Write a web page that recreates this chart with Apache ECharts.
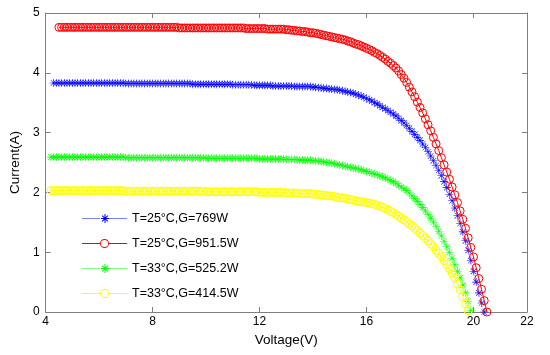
<!DOCTYPE html>
<html>
<head>
<meta charset="utf-8">
<script src="https://cdn.jsdelivr.net/npm/echarts@6/dist/echarts.min.js"></script>
<style>
html,body{margin:0;padding:0;background:#fff;}
#chart{width:550px;height:355px;}
</style>
</head>
<body>
<div id="chart"></div>
<script>
// Voltage sampling (V) (step ~0.1 V)
const voltage = [
 4.2,4.3,4.4,4.5,4.6,4.7,4.8,4.9,
 5.0,5.1,5.2,5.3,5.4,5.5,5.6,5.7,5.8,5.9,
 6.0,6.1,6.2,6.3,6.4,6.5,6.6,6.7,6.8,6.9,
 7.0,7.1,7.2,7.3,7.4,7.5,7.6,7.7,7.8,7.9,
 8.0,8.1,8.2,8.3,8.4,8.5,8.6,8.7,8.8,8.9,
 9.0,9.1,9.2,9.3,9.4,9.5,9.6,9.7,9.8,9.9,
 10.0,10.1,10.2,10.3,10.4,10.5,10.6,10.7,10.8,10.9,
 11.0,11.1,11.2,11.3,11.4,11.5,11.6,11.7,11.8,11.9,
 12.0,12.1,12.2,12.3,12.4,12.5,12.6,12.7,12.8,12.9,
 13.0,13.1,13.2,13.3,13.4,13.5,13.6,13.7,13.8,13.9,
 14.0,14.1,14.2,14.3,14.4,14.5,14.6,14.7,14.8,14.9,
 15.0,15.1,15.2,15.3,15.4,15.5,15.6,15.7,15.8,15.9,
 16.0,16.1,16.2,16.3,16.4,16.5,16.6,16.7,16.8,16.9,
 17.0,17.1,17.2,17.3,17.4,17.5,17.6,17.7,17.8,17.9,
 18.0,18.1,18.2,18.3,18.4,18.5,18.6,18.7,18.8,18.9,
 19.0,19.1,19.2,19.3,19.4,19.5,19.6,19.7,19.8,19.9,
 20.0,20.1,20.2,20.3,20.4,20.5
];

// T=25°C, G=769W (blue *)
const current769 = [
 null,3.83,3.83,3.83,3.83,3.83,3.83,3.83,
 3.83,3.83,3.83,3.83,3.83,3.83,3.83,3.83,3.83,3.83,
 3.83,3.83,3.83,3.83,3.83,3.83,3.83,3.83,3.83,3.83,
 3.82,3.82,3.82,3.82,3.82,3.82,3.82,3.82,3.82,3.82,
 3.82,3.82,3.82,3.82,3.82,3.82,3.82,3.82,3.82,3.82,
 3.82,3.82,3.82,3.82,3.82,3.81,3.81,3.81,3.81,3.81,
 3.81,3.81,3.81,3.81,3.81,3.81,3.81,3.81,3.81,3.81,
 3.80,3.80,3.80,3.80,3.80,3.80,3.80,3.80,3.79,3.79,
 3.79,3.79,3.79,3.79,3.79,3.78,3.78,3.78,3.78,3.78,
 3.78,3.78,3.78,3.77,3.77,3.77,3.77,3.77,3.77,3.77,
 3.76,3.76,3.75,3.75,3.74,3.74,3.73,3.73,3.72,3.72,
 3.71,3.70,3.69,3.68,3.67,3.66,3.64,3.63,3.61,3.59,
 3.57,3.55,3.53,3.50,3.48,3.45,3.42,3.40,3.37,3.34,
 3.31,3.28,3.24,3.20,3.16,3.12,3.07,3.02,2.97,2.92,
 2.87,2.81,2.75,2.68,2.61,2.53,2.45,2.37,2.28,2.18,
 2.08,1.97,1.86,1.74,1.61,1.48,1.34,1.19,1.03,0.86,
 0.68,0.50,0.32,0.15,0.00,null
];

// T=25°C, G=951.5W (red o)
const current951 = [
 null,null,null,4.76,4.76,4.76,4.76,4.76,
 4.76,4.76,4.76,4.76,4.76,4.76,4.76,4.76,4.76,4.76,
 4.76,4.76,4.76,4.76,4.76,4.76,4.76,4.76,4.76,4.76,
 4.76,4.76,4.76,4.76,4.76,4.76,4.76,4.76,4.76,4.76,
 4.76,4.76,4.76,4.76,4.76,4.76,4.76,4.76,4.76,4.76,
 4.75,4.75,4.75,4.75,4.75,4.75,4.75,4.75,4.75,4.75,
 4.75,4.75,4.75,4.75,4.75,4.75,4.75,4.75,4.75,4.75,
 4.75,4.75,4.75,4.75,4.75,4.74,4.74,4.74,4.74,4.74,
 4.74,4.74,4.74,4.73,4.73,4.73,4.73,4.73,4.73,4.73,
 4.72,4.72,4.71,4.71,4.70,4.70,4.69,4.69,4.68,4.67,
 4.67,4.66,4.65,4.64,4.63,4.62,4.61,4.60,4.59,4.58,
 4.57,4.56,4.55,4.53,4.52,4.50,4.48,4.47,4.45,4.43,
 4.41,4.39,4.37,4.34,4.32,4.29,4.26,4.23,4.19,4.16,
 4.12,4.08,4.03,3.97,3.91,3.84,3.76,3.68,3.60,3.51,
 3.42,3.33,3.23,3.13,3.03,2.92,2.81,2.70,2.58,2.46,
 2.34,2.22,2.09,1.96,1.83,1.69,1.55,1.40,1.24,1.08,
 0.92,0.74,0.56,0.38,0.19,0.00
];

// T=33°C, G=525.2W (green *)
const current525 = [
 2.59,2.59,2.59,2.59,2.59,2.59,2.59,2.59,
 2.59,2.59,2.59,2.59,2.59,2.59,2.59,2.59,2.59,2.59,
 2.59,2.59,2.59,2.59,2.59,2.59,2.59,2.59,2.59,2.59,
 2.58,2.58,2.58,2.58,2.58,2.58,2.58,2.58,2.58,2.58,
 2.58,2.58,2.58,2.58,2.58,2.58,2.58,2.58,2.58,2.58,
 2.58,2.58,2.58,2.58,2.58,2.58,2.58,2.58,2.58,2.58,
 2.57,2.57,2.57,2.57,2.57,2.57,2.57,2.57,2.57,2.57,
 2.57,2.57,2.57,2.57,2.57,2.57,2.57,2.57,2.57,2.57,
 2.56,2.56,2.56,2.56,2.56,2.56,2.56,2.56,2.56,2.56,
 2.55,2.55,2.55,2.55,2.55,2.54,2.54,2.54,2.54,2.54,
 2.53,2.53,2.52,2.52,2.51,2.50,2.50,2.49,2.48,2.47,
 2.46,2.45,2.44,2.43,2.42,2.41,2.40,2.39,2.38,2.36,
 2.35,2.34,2.32,2.31,2.29,2.28,2.26,2.24,2.22,2.20,
 2.18,2.15,2.12,2.09,2.06,2.03,1.99,1.94,1.90,1.85,
 1.80,1.75,1.69,1.63,1.57,1.50,1.43,1.35,1.27,1.18,
 1.09,1.00,0.90,0.79,0.68,0.57,0.45,0.32,0.18,0.03,
 null,null,null,null,null,null
];

// T=33°C, G=414.5W (yellow o)
const current414 = [
 2.03,2.03,2.03,2.03,2.03,2.03,2.03,2.03,
 2.03,2.03,2.03,2.03,2.03,2.03,2.03,2.03,2.03,2.03,
 2.03,2.03,2.03,2.03,2.03,2.03,2.03,2.03,2.03,2.03,
 2.02,2.02,2.02,2.02,2.02,2.02,2.02,2.02,2.02,2.02,
 2.02,2.02,2.02,2.02,2.02,2.02,2.02,2.02,2.02,2.02,
 2.02,2.02,2.02,2.02,2.02,2.02,2.02,2.02,2.02,2.02,
 2.01,2.01,2.01,2.01,2.01,2.01,2.01,2.01,2.01,2.01,
 2.01,2.01,2.01,2.01,2.01,2.01,2.01,2.01,2.01,2.01,
 2.00,2.00,2.00,2.00,2.00,2.00,2.00,2.00,2.00,2.00,
 1.99,1.99,1.99,1.99,1.99,1.98,1.98,1.98,1.98,1.98,
 1.97,1.97,1.96,1.96,1.95,1.95,1.94,1.94,1.93,1.92,
 1.91,1.91,1.90,1.89,1.88,1.87,1.86,1.85,1.84,1.84,
 1.83,1.82,1.81,1.80,1.78,1.77,1.75,1.73,1.71,1.68,
 1.66,1.63,1.60,1.57,1.54,1.51,1.47,1.44,1.40,1.36,
 1.32,1.28,1.23,1.19,1.14,1.09,1.03,0.98,0.92,0.86,
 0.79,0.72,0.65,0.57,0.47,0.37,0.26,0.14,0.02,null,
 null,null,null,null,null,null
];

const seriesNames = ['T=25°C,G=769W','T=25°C,G=951.5W','T=33°C,G=525.2W','T=33°C,G=414.5W'];
const seriesColors = ['#0000ff', '#ff0000', '#00ff00', '#ffff00'];
const lineColors = ['#a0a0ff', '#ff0000', '#a0ffa0', '#ffff00'];
const xTicks = [4, 8, 12, 16, 20, 22];
const yTicks = [0, 1, 2, 3, 4, 5];

function pairs(arr) {
  const out = [];
  for (let i = 0; i < voltage.length; i++) {
    if (arr[i] !== null) out.push([voltage[i], arr[i]]);
  }
  return out;
}

const ASTERISK = 'path://M9.3 0H10.7V20H9.3Z M0 9.3H20V10.7H0Z M2.4 3.4L3.4 2.4L17.6 16.6L16.6 17.6Z M16.6 2.4L17.6 3.4L3.4 17.6L2.4 16.6Z';

// Legend icons (45 x 9 box): a line with the marker in its middle
const LEG_STAR_CORE = 'M22 0H23V9H22Z M18.5 4H26.5V5H18.5Z M19.32 2.02L20.02 1.32L25.68 6.98L24.98 7.68Z M24.98 1.32L25.68 2.02L20.02 7.68L19.32 6.98Z';
function dottedBars() {
  let p = '';
  for (let x = 0; x < 18; x += 2) p += 'M' + x + ' 4H' + (x + 1) + 'V5H' + x + 'Z ';
  for (let x = 27; x < 45; x += 2) p += 'M' + x + ' 4H' + (x + 1) + 'V5H' + x + 'Z ';
  return p;
}
const LEG_STAR = 'path://' + dottedBars() + LEG_STAR_CORE;
const LEG_RING = 'path://M0 4H18.2V5H0Z M26.8 4H45V5H26.8Z ' +
  'M18 4.5A4.5 4.5 0 1 1 27 4.5A4.5 4.5 0 1 1 18 4.5Z ' +
  'M18.9 4.5A3.6 3.6 0 1 0 26.1 4.5A3.6 3.6 0 1 0 18.9 4.5Z';

const FONT = 'Liberation Sans, Arial, sans-serif';
const AX = '#7f7f7f';
const symbols = [ASTERISK, 'circle', ASTERISK, 'circle'];
const legendIcons = [LEG_STAR, LEG_RING, LEG_STAR, LEG_RING];
const isOpen = [false, true, false, true];

function boxAxis(extra) {
  return Object.assign({
    type: 'value',
    splitLine: { show: false },
    axisLine: { show: true, onZero: false, lineStyle: { color: AX, width: 1 } },
    axisTick: { show: true, inside: true, length: 5, lineStyle: { color: AX } },
    axisLabel: { show: false }
  }, extra);
}

function markerStyle(i) {
  return isOpen[i]
    ? { color: 'rgba(255,255,255,0)', borderColor: seriesColors[i], borderWidth: 1 }
    : { color: seriesColors[i], borderWidth: 0 };
}

const currents = [current769, current951, current525, current414];

const chart = echarts.init(document.getElementById('chart'), null, { renderer: 'canvas' });
chart.setOption({
  animation: false,
  backgroundColor: '#ffffff',
  textStyle: { fontFamily: FONT },
  grid: { left: 41, right: 23, top: 13, bottom: 43, containLabel: false },
  xAxis: [
    boxAxis({
      min: xTicks[0], max: xTicks[xTicks.length - 1], interval: 4, position: 'bottom',
      name: 'Voltage(V)', nameLocation: 'middle', nameGap: 20,
      nameTextStyle: { fontSize: 13.5, color: '#000', fontFamily: FONT },
      axisLabel: { show: true, fontSize: 12, color: '#000', margin: 4, fontFamily: FONT }
    }),
    boxAxis({ min: xTicks[0], max: xTicks[xTicks.length - 1], interval: 4, position: 'top' })
  ],
  yAxis: [
    boxAxis({
      min: yTicks[0], max: yTicks[yTicks.length - 1], interval: 1, position: 'left',
      name: 'Current(A)', nameLocation: 'middle', nameGap: 23, nameRotate: 90,
      nameTextStyle: { fontSize: 13.5, color: '#000', fontFamily: FONT },
      axisLabel: { show: true, fontSize: 12, color: '#000', margin: 6, fontFamily: FONT }
    }),
    boxAxis({ min: yTicks[0], max: yTicks[yTicks.length - 1], interval: 1, position: 'right' })
  ],
  legend: {
    orient: 'vertical', left: 77, top: 207,
    itemWidth: 45, itemHeight: 9, itemGap: 12,
    symbolKeepAspect: true,
    textStyle: { fontSize: 12.5, color: '#000', fontFamily: FONT },
    data: seriesNames.map((n, i) => ({
      name: n,
      icon: legendIcons[i],
      itemStyle: { color: seriesColors[i], borderWidth: 0, borderColor: seriesColors[i] }
    }))
  },
  series: seriesNames.map((n, i) => ({
    name: n, type: 'line', data: pairs(currents[i]),
    symbol: symbols[i], symbolSize: 8, showAllSymbol: true, clip: false,
    lineStyle: { color: lineColors[i], width: 1, type: isOpen[i] ? 'solid' : 'dotted' },
    itemStyle: markerStyle(i)
  }))
});
</script>
</body>
</html>
